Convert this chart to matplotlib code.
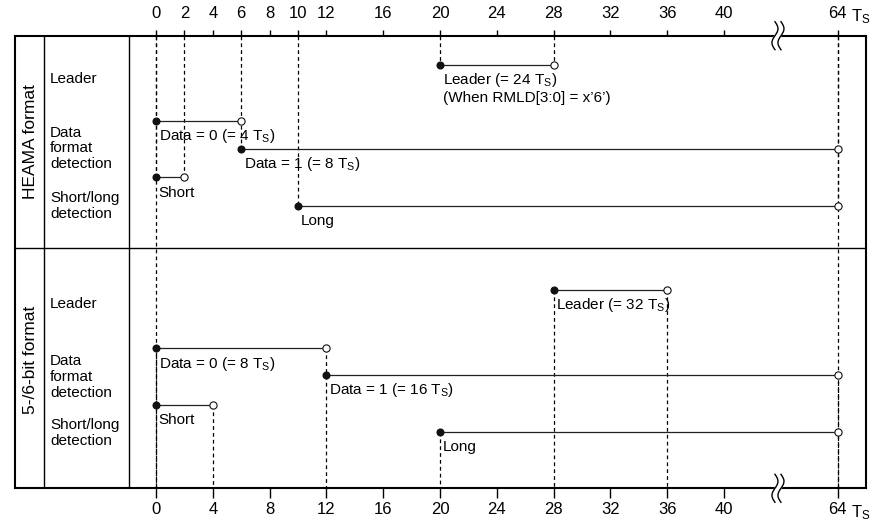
import matplotlib
matplotlib.use("Agg")
import matplotlib.pyplot as plt
import matplotlib.transforms as mtransforms
import numpy as np

plt.rcParams['font.family'] = ['Liberation Sans', 'DejaVu Sans']
plt.rcParams['mathtext.fontset'] = 'custom'
plt.rcParams['mathtext.rm'] = 'Liberation Sans'
plt.rcParams['mathtext.it'] = 'Liberation Sans:italic'

# ---- data (time in units of Ts) ----
section_names = ["HEAMA format", "5-/6-bit format"]
row_names = ["Leader", "Data\nformat\ndetection", "Short/long\ndetection"]

heama_start = [20, 0, 6, 0, 10]
heama_end = [28, 6, 64, 2, 64]
heama_text = ["Leader (= 24 T$_\\mathrm{S}$)", "Data = 0 (= 4 T$_\\mathrm{S}$)",
              "Data = 1 (= 8 T$_\\mathrm{S}$)", "Short", "Long"]
heama_note = "(When RMLD[3:0] = x\u20196\u2019)"

bit56_start = [28, 0, 12, 0, 20]
bit56_end = [36, 12, 64, 4, 64]
bit56_text = ["Leader (= 32 T$_\\mathrm{S}$)", "Data = 0 (= 8 T$_\\mathrm{S}$)",
              "Data = 1 (= 16 T$_\\mathrm{S}$)", "Short", "Long"]

top_ticks = [0, 2, 4, 6, 8, 10, 12, 16, 20, 24, 28, 32, 36, 40, 64]
bottom_ticks = [0, 4, 8, 12, 16, 20, 24, 28, 32, 36, 40, 64]
break_at = 43.8

# ---- layout (vertical positions, in pixel rows from the top) ----
y_top, y_mid, y_bot = 35.7, 248.3, 488.3
heama_rows = [65, 120.7, 148.7, 177.3, 205.7]
bit56_rows = [290, 348.3, 374.7, 405, 431.7]
heama_label_y = [79, 148.5, 206]
bit56_label_y = [304, 377, 433]
fs = 11
tick_fs = 12


def fwd(x):
    x = np.asarray(x, dtype=float)
    return np.where(x <= 44, x, np.where(x >= 60, x - 16, 44.0))


def inv(x):
    x = np.asarray(x, dtype=float)
    return np.where(x <= 44, x, x + 16)


W, H = 882, 521
fig = plt.figure(figsize=(W / 100, H / 100), dpi=100)
ax = fig.add_axes([15 / W, 1 - y_bot / H, (866 - 15) / W, (y_bot - y_top) / H])
ax.set_xscale('function', functions=(fwd, inv))
ax.set_xlim(-9.93, 66)
ax.set_ylim(y_bot, y_top)
for s in ax.spines.values():
    s.set_linewidth(1.5)

ax2 = ax.twiny()
ax2.set_xscale('function', functions=(fwd, inv))
ax2.set_xlim(-9.93, 66)
for s in ax2.spines.values():
    s.set_visible(False)

ax.set_xticks(bottom_ticks)
ax.set_xticklabels([str(t) for t in bottom_ticks])
ax.tick_params(axis='x', direction='out', length=7.2, width=1.0, pad=2.5, labelsize=tick_fs)
ax.set_yticks([])
ax2.set_xticks(top_ticks)
ax2.set_xticklabels([str(t) for t in top_ticks])
ax2.tick_params(axis='x', direction='out', length=4.3, width=1.0, pad=6.0, labelsize=tick_fs)

ax.annotate("T$_\\mathrm{S}$", xy=(64, y_top), xytext=(9.6, 10.3), textcoords='offset points',
            ha='left', va='baseline', fontsize=tick_fs, annotation_clip=False)
ax.annotate("T$_\\mathrm{S}$", xy=(64, y_bot), xytext=(9.6, -20.7), textcoords='offset points',
            ha='left', va='baseline', fontsize=tick_fs, annotation_clip=False)

# table lines on the left
ax.axhline(y_mid, color='black', lw=1.0)
for xv in [-7.89, -1.88]:
    ax.axvline(xv, color='black', lw=1.0)

ax.text(-8.87, (y_top + y_mid) / 2, section_names[0], rotation=90, ha='center', va='center', fontsize=12.5)
ax.text(-8.87, 360, section_names[1], rotation=90, ha='center', va='center', fontsize=12.5)
for name, yl in zip(row_names, heama_label_y):
    ax.text(-7.45, yl, name, ha='left', va='center', fontsize=fs, linespacing=1.15)
for name, yl in zip(row_names, bit56_label_y):
    ax.text(-7.45, yl, name, ha='left', va='center', fontsize=fs, linespacing=1.15)

dash = (0, (3, 2.5))


def draw_section(starts, ends, rows, texts, upper):
    # dashed guides: in the upper section they come down from the top axis,
    # in the lower section they go down to the bottom axis
    pts = {}
    for s, e, r in zip(starts, ends, rows):
        for xv in (s, e):
            pts.setdefault(xv, []).append(r)
    for xv, rs in pts.items():
        if upper:
            ax.plot([xv, xv], [y_top, max(rs)], color='black', lw=0.9, ls=dash, zorder=1)
        else:
            ax.plot([xv, xv], [min(rs), y_bot], color='black', lw=0.9, ls=dash, zorder=1)
    for s, e, r, t in zip(starts, ends, rows, texts):
        ax.plot([s, e], [r, r], color='#222222', lw=0.9, zorder=3)
        ax.plot(s, r, 'o', color='#111111', ms=4.8, zorder=4)
        ax.plot(e, r, 'o', mfc='white', mec='#111111', mew=0.8, ms=5.2, zorder=4)
        ax.annotate(t, xy=(s, r), xytext=(1.8, -14), textcoords='offset points',
                    ha='left', va='baseline', fontsize=fs)


draw_section(heama_start, heama_end, heama_rows, heama_text, True)
draw_section(bit56_start, bit56_end, bit56_rows, bit56_text, False)
ax.annotate(heama_note, xy=(heama_start[0], heama_rows[0]), xytext=(1.8, -26.4),
            textcoords='offset points', ha='left', va='baseline', fontsize=fs)

# full-height guides at 0 and 64
for xv in [0, 64]:
    ax.plot([xv, xv], [y_top, y_bot], color='black', lw=0.9, ls=dash, zorder=1)

# axis break symbols
t = np.linspace(-1, 1, 60)
cx = 3 * np.sin(np.pi * t) / 100
cy = 14 * t / 100
for yb in [y_top, y_bot]:
    tr = fig.dpi_scale_trans + mtransforms.ScaledTranslation(break_at, yb, ax.transData)
    poly_x = np.concatenate([cx - 3 / 100, (cx + 3 / 100)[::-1]])
    poly_y = np.concatenate([cy, cy[::-1]])
    ax.fill(poly_x, poly_y, color='white', transform=tr, clip_on=False, zorder=5)
    ax.plot(cx - 3 / 100, cy, color='black', lw=1.0, transform=tr, clip_on=False, zorder=6)
    ax.plot(cx + 3 / 100, cy, color='black', lw=1.0, transform=tr, clip_on=False, zorder=6)

fig.savefig("out.png", dpi=100)
